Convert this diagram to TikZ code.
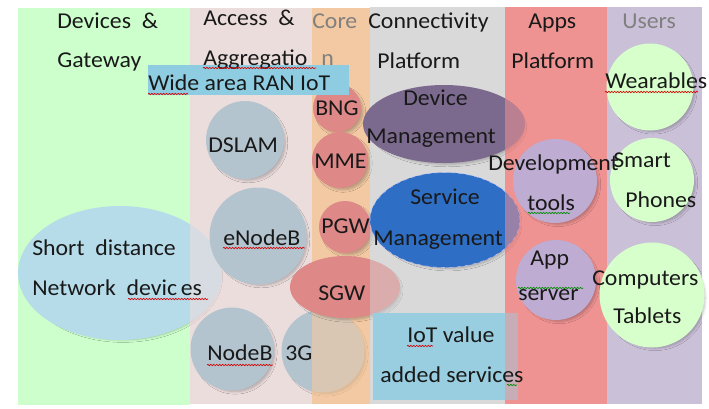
\documentclass[tikz,border=0pt]{standalone}
\usepackage{fontspec}
\setmainfont{Carlito}[FakeStretch=1.05]
\usetikzlibrary{shapes.geometric, shadows.blur, decorations.pathmorphing}

% column colours
\definecolor{devgreen}{RGB}{204,255,204}
\definecolor{accpink}{RGB}{236,221,221}
\definecolor{coreorange}{RGB}{242,201,162}
\definecolor{conngray}{RGB}{217,217,217}
\definecolor{appsred}{RGB}{238,146,146}
\definecolor{userlilac}{RGB}{202,192,216}
% blob colours
\definecolor{nodegray}{RGB}{180,196,206}
\definecolor{corered}{RGB}{222,136,136}
\definecolor{shortblue}{RGB}{182,220,234}
\definecolor{ranblue}{RGB}{142,205,225}
\definecolor{devmgmt}{RGB}{124,106,142}
\definecolor{svcblue}{RGB}{46,110,196}
\definecolor{applilac}{RGB}{190,172,210}
\definecolor{userlime}{RGB}{214,255,204}
\definecolor{iotblue}{RGB}{152,206,224}
\definecolor{headgray}{RGB}{128,128,128}

\tikzset{
  softshadow/.style={blur shadow={shadow xshift=2.5pt, shadow yshift=-2.5pt,
    shadow scale=0.95, shadow blur radius=2pt, shadow blur steps=6,
    shadow opacity=25}},
  blob/.style={circle, inner sep=0pt, minimum size=#1*0.75pt, softshadow},
  oval/.style 2 args={ellipse, inner sep=0pt, minimum width=#1*0.75pt,
    minimum height=#2*0.75pt, softshadow},
  txt/.style={anchor=base west, inner sep=0pt, text=black!90,
    font=\fontsize{17}{20}\selectfont},
  spellmark/.style={red!85!black, line width=0.5pt, decorate,
    decoration={snake, amplitude=0.5pt, segment length=2.2pt}},
  grammarmark/.style={spellmark, green!55!black},
}

\begin{document}
\begin{tikzpicture}[x=0.75pt, y=-0.75pt]
    \useasboundingbox (0,0) rectangle (709,408);

    % Draw the columns
    \fill[devgreen]   (18,8)  rectangle (190,405);
    \fill[accpink]    (190,8) rectangle (312,404);
    \fill[coreorange] (312,8) rectangle (370,404);
    \fill[conngray]   (370,7) rectangle (505,404);
    \fill[appsred]    (505,7) rectangle (607,404);
    \fill[userlilac]  (607,7) rectangle (702,404);

    % Devices & Gateway
    \node[oval={204}{134}, fill=shortblue] (short) at (120,273) {};
    \fill[accpink, opacity=.6] (190,8) rectangle (312,404);

    % Access & Aggregation
    \node[blob=78, fill=nodegray] (dslam)  at (245,140) {};
    \node[blob=97, fill=nodegray] (enodeb) at (258,236) {};
    \node[blob=83, fill=nodegray] (nodeb)  at (232,349) {};
    \node[blob=83, fill=nodegray] (threeg) at (323,351) {};
    \fill[coreorange, opacity=.6] (312,8) rectangle (370,404);

    % Core
    \node[blob=48, fill=corered] (bng) at (337,108) {};
    \node[blob=56, fill=corered] (mme) at (340,160) {};
    \node[blob=52, fill=corered] (pgw) at (345,227) {};
    \node[oval={110}{62}, fill=corered] (sgw) at (345,287) {};
    \fill[conngray, opacity=.45] (370,7) rectangle (505,404);

    % Connectivity Platform
    \node[oval={162}{78}, fill=devmgmt] (devmgmt) at (444,124) {};
    \node[oval={150}{95}, fill=svcblue, draw=blue!25!white, dashed, thin] (svcmgmt) at (445,220) {};
    \node[fill=iotblue, inner sep=0pt, minimum width=145*0.75pt, minimum height=87*0.75pt,
      anchor=north west] (iot) at (373,313) {};
    \fill[appsred, opacity=.55] (505,7) rectangle (607,404);

    % Apps Platform
    \node[blob=84, fill=applilac] (devtools)  at (555,181) {};
    \node[blob=80, fill=applilac] (appserver) at (556,280) {};

    % Users
    \node[blob=87,  fill=userlime] (wear)  at (650,87) {};
    \node[blob=84,  fill=userlime] (phone) at (652,180) {};
    \node[blob=105, fill=userlime] (comp)  at (652,295) {};

    % Wide area RAN IoT banner
    \node[fill=ranblue, inner sep=0pt, minimum width=201*0.75pt, minimum height=30*0.75pt,
      anchor=north west] (ran) at (148,65) {};

    % Column headings
    \node[txt] (h-dev1)  at (57,28)  {Devices \ \&};
    \node[txt] (h-dev2)  at (57,67)  {Gateway};
    \node[txt] (h-acc1)  at (203,25) {Access \ \&};
    \node[txt] (h-acc2)  at (203,65) {Aggregatio};
    \node[txt, text=headgray] (h-acc3) at (321,65) {n};
    \node[txt, text=headgray] (h-core) at (312,28) {Core};
    \node[txt] (h-con1)  at (368,28) {Connectivity};
    \node[txt] (h-con2)  at (377,68) {Platform};
    \node[txt] (h-app1)  at (528,28) {Apps};
    \node[txt] (h-app2)  at (511,68) {Platform};
    \node[txt, text=headgray] (h-user) at (622,28) {Users};

    % Labels of the blobs
    \node[txt] (t-ran)    at (148,90)  {Wide area RAN IoT};
    \node[txt] (t-bng)    at (315,115) {BNG};
    \node[txt] (t-dslam)  at (208,152) {DSLAM};
    \node[txt] (t-mme)    at (314,168) {MME};
    \node[txt] (t-pgw)    at (321,233) {PGW};
    \node[txt] (t-sgw)    at (318,300) {SGW};
    \node[txt] (t-enb)    at (223,245) {eNodeB};
    \node[txt] (t-short1) at (32,255)  {Short \ distance};
    \node[txt] (t-short2) at (32,295)  {Network \ devic\,es};
    \node[txt] (t-nodeb)  at (207,360) {NodeB};
    \node[txt] (t-3g)     at (285,360) {3G};
    \node[txt] (t-dev1)   at (403,105) {Device};
    \node[txt] (t-dev2)   at (366,143) {Management};
    \node[txt] (t-svc1)   at (410,204) {Service};
    \node[txt] (t-svc2)   at (373,245) {Management};
    \node[txt] (t-iot1)   at (407,342) {IoT value};
    \node[txt] (t-iot2)   at (380,382) {added services};
    \node[txt] (t-tool1)  at (488,170) {Development};
    \node[txt] (t-tool2)  at (527,210) {tools};
    \node[txt] (t-app1)   at (530,265) {App};
    \node[txt] (t-app2)   at (518,300) {server};
    \node[txt] (t-wear)   at (605,88)  {Wearables};
    \node[txt] (t-ph1)    at (613,167) {Smart};
    \node[txt] (t-ph2)    at (625,207) {Phones};
    \node[txt] (t-comp1)  at (592,285) {Computers};
    \node[txt] (t-comp2)  at (613,323) {Tablets};

    % Spell check underlines
    \draw[spellmark] (203,68) -- (316,68);
    \draw[spellmark] (148,94) -- (188,94);
    \draw[spellmark] (223,248) -- (305,248);
    \draw[spellmark] (128,299) -- (208,299);
    \draw[spellmark] (207,365) -- (273,365);
    \draw[spellmark] (605,92) -- (698,92);
    \draw[spellmark] (407,346) -- (433,346);
    \draw[grammarmark] (528,213) -- (570,213);
    \draw[grammarmark] (518,288) -- (583,288);
    \draw[grammarmark] (507,385) -- (517,385);
\end{tikzpicture}
\end{document}
